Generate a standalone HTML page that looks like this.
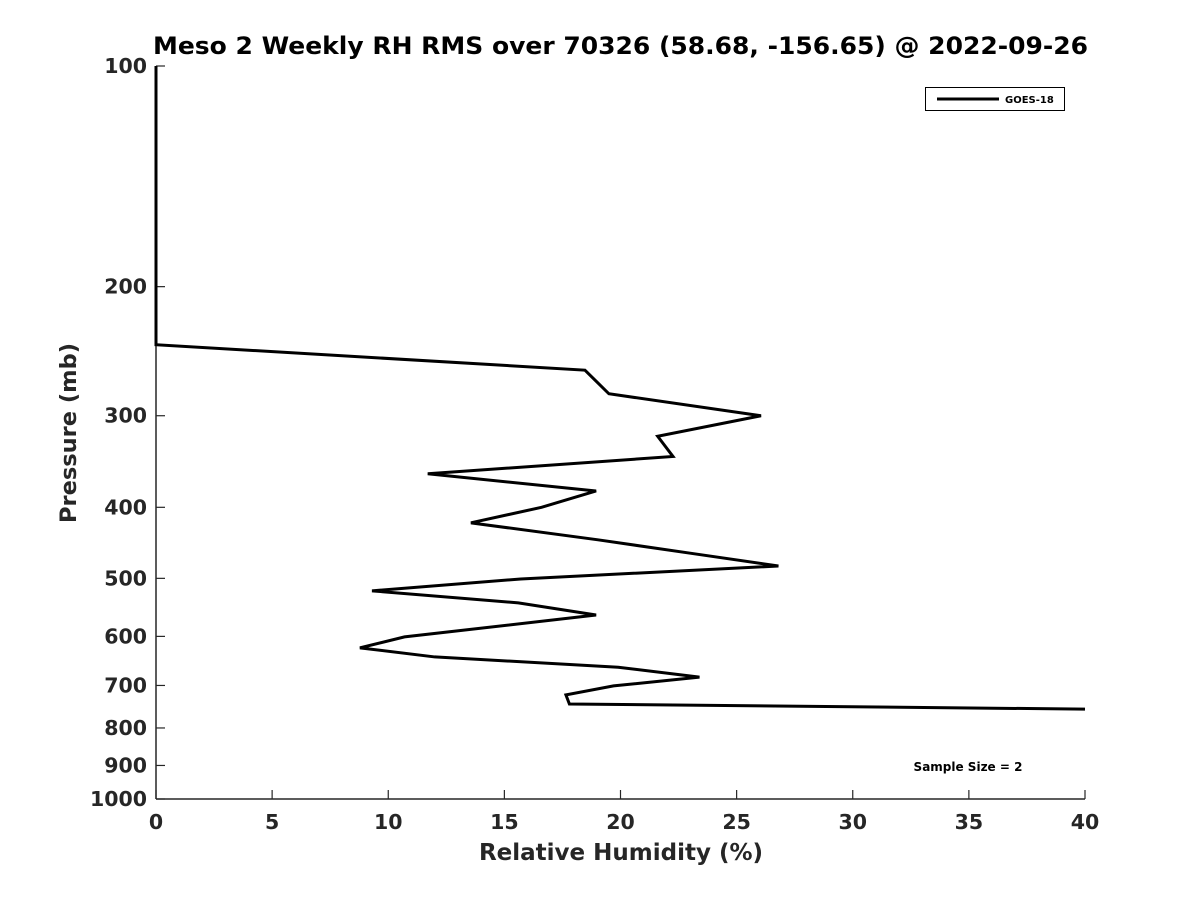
<!DOCTYPE html>
<html><head><meta charset="utf-8"><style>
body{margin:0;background:#fff;}
svg text{font-family:"DejaVu Sans","Liberation Sans",sans-serif;font-weight:bold;fill:#262626;}
</style></head><body>
<svg id="c" width="1200" height="900" xmlns="http://www.w3.org/2000/svg">
<rect width="1200" height="900" fill="#fff"/>
<text x="153" y="54" font-size="24" textLength="935" lengthAdjust="spacingAndGlyphs" style="fill:#000">Meso 2 Weekly RH RMS over 70326 (58.68, -156.65) @ 2022-09-26</text>
<g id="axes"></g>
<text x="621" y="860" text-anchor="middle" font-size="23">Relative Humidity (%)</text>
<text transform="translate(76,433) rotate(-90)" text-anchor="middle" font-size="22.5">Pressure (mb)</text>
<g>
<rect x="925.5" y="87.5" width="139" height="23" fill="#fff" stroke="#000" stroke-width="1"/>
<line x1="937" y1="99" x2="999" y2="99" stroke="#000" stroke-width="3"/>
<text x="1005" y="103" font-size="10" style="fill:#000">GOES-18</text>
</g>
<text x="968" y="771" text-anchor="middle" font-size="12" style="fill:#000">Sample Size = 2</text>
</svg>
<script>
const rhValues=[0,0,18.47,19.5,26.05,21.6,22.26,11.7,18.95,16.6,13.56,19.03,23.0,26.8,15.7,9.3,15.6,18.95,10.7,8.78,12.0,19.9,23.4,19.7,17.65,17.8,40];
const pressures=[100,240,260,280,300,320,341,360,380,400,420,443,462,481,501,520,540,561,601,622,640,661,682,701,721,742,754];
const xTicks=[0,5,10,15,20,25,30,35,40];
const yTicks=[100,200,300,400,500,600,700,800,900,1000];
const X0=156,X1=1085,Y0=66,Y1=799;
const xs=v=>X0+(v-0)/40*(X1-X0);
const ys=p=>Y0+(Math.log10(p)-2)*(Y1-Y0);
const NS="http://www.w3.org/2000/svg";
const g=document.getElementById('axes');
function mk(t,a){const e=document.createElementNS(NS,t);for(const k in a)e.setAttribute(k,a[k]);g.appendChild(e);return e;}
let ax=mk('line',{x1:X0,y1:Y0,x2:X0,y2:Y1,stroke:'#262626','stroke-width':1.5});


let bx=mk('line',{x1:X0,y1:Y1,x2:X1,y2:Y1,stroke:'#262626','stroke-width':1.5});


xTicks.forEach(v=>{const x=xs(v);
mk('line',{x1:x,y1:Y1,x2:x,y2:Y1-9,stroke:'#262626','stroke-width':1.2});
const t=mk('text',{x:x,y:Y1+30,'text-anchor':'middle','font-size':20.5});t.textContent=v;

});
yTicks.forEach(p=>{const y=ys(p);
mk('line',{x1:X0,y1:y,x2:X0+9,y2:y,stroke:'#262626','stroke-width':1.2});
const t=mk('text',{x:X0-9,y:y+7,'text-anchor':'end','font-size':20.5});t.textContent=p;

});
const pl=mk('polyline',{points:rhValues.map((v,i)=>xs(v)+','+ys(pressures[i])).join(' '),fill:'none',stroke:'#000','stroke-width':3,'stroke-linejoin':'miter'});


</script>
</body></html>
